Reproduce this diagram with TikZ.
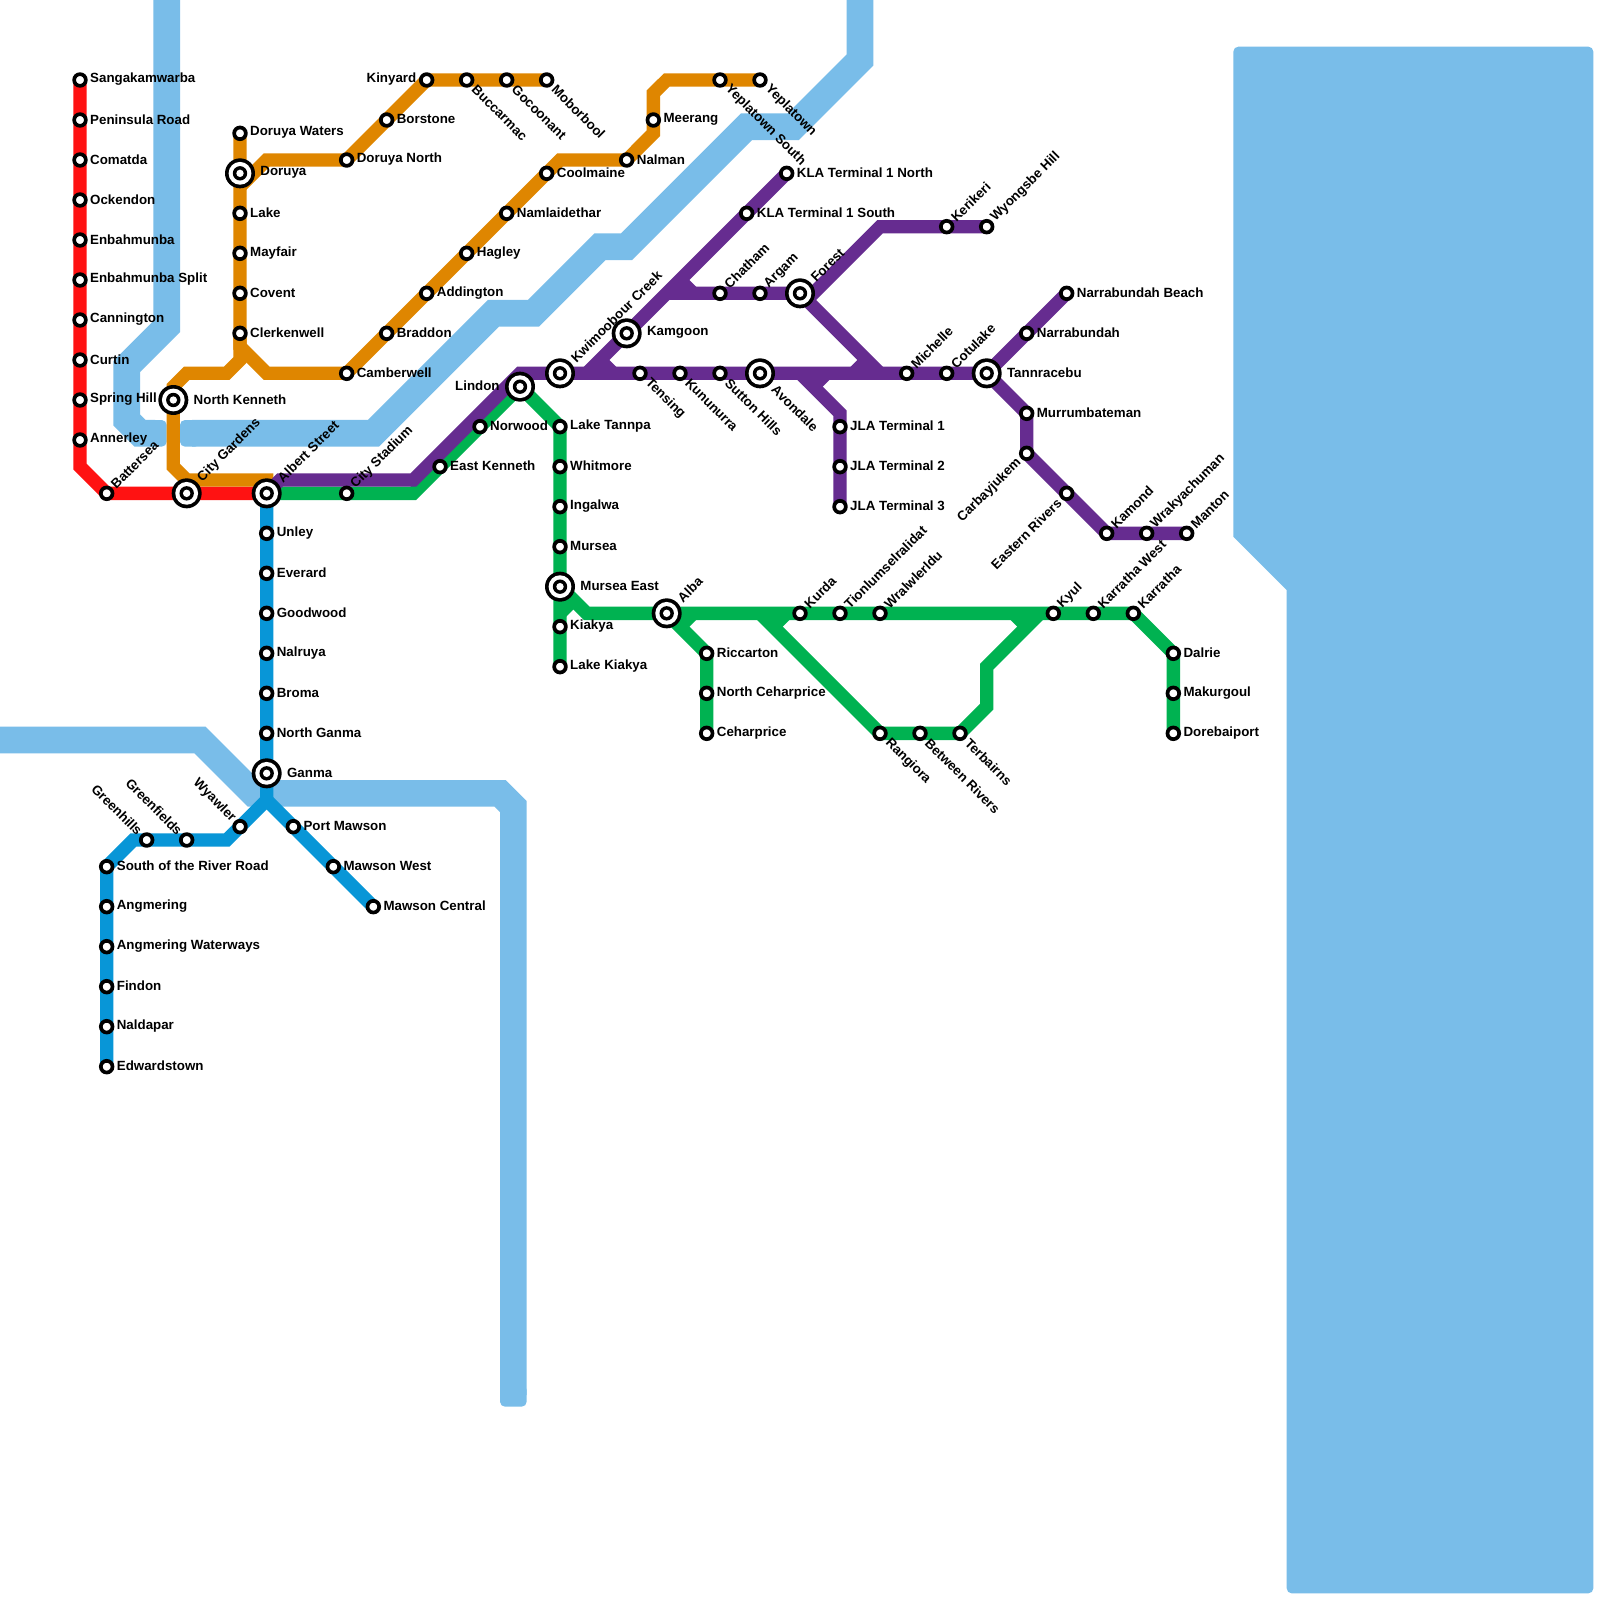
\documentclass[tikz,border=0pt]{standalone}
\usepackage{fontspec}
\setmainfont{Liberation Sans}
\pgfdeclarelayer{water}
\pgfdeclarelayer{lines}
\pgfsetlayers{water,lines,main}
\definecolor{river}{HTML}{79BDE9}
\definecolor{cred}{HTML}{FF1212}
\definecolor{corange}{HTML}{DF8600}
\definecolor{cpurple}{HTML}{662C90}
\definecolor{cgreen}{HTML}{00B251}
\definecolor{cblue}{HTML}{0896D7}
\tikzset{
  stn/.style={circle,draw=black,fill=white,line width=3.7pt,minimum size=11.7pt,inner sep=0pt,outer sep=0pt},
  hub/.style={circle,fill=black,minimum size=30pt,inner sep=0pt,outer sep=0pt,
    path picture={
      \fill[white] (path picture bounding box.center) circle[radius=11.4pt];
      \fill[black] (path picture bounding box.center) circle[radius=7.2pt];
      \fill[white] (path picture bounding box.center) circle[radius=3.7pt];}},
  lbl/.style={inner sep=0pt,outer sep=0pt,font=\fontsize{13.33}{15}\selectfont\bfseries,text=black},
  metro/.style={line width=13.33pt,line join=miter,miter limit=10},
  riverline/.style={draw=river,line width=26.67pt,line join=miter,miter limit=10},
}
\newcommand{\StR}[4]{\node[stn] (#1) at (#2,#3) {}; \node[lbl,anchor=west] (#1-l) at ([xshift=10.2pt,yshift=0.6pt]#1.center) {#4};}
\newcommand{\StL}[4]{\node[stn] (#1) at (#2,#3) {}; \node[lbl,anchor=east] (#1-l) at ([xshift=-10.4pt,yshift=0.6pt]#1.center) {#4};}
\newcommand{\StUR}[4]{\node[stn] (#1) at (#2,#3) {}; \node[lbl,anchor=west,rotate=45] (#1-l) at ([xshift=6.6pt,yshift=7.2pt]#1.center) {#4};}
\newcommand{\StDR}[4]{\node[stn] (#1) at (#2,#3) {}; \node[lbl,anchor=west,rotate=-45] (#1-l) at ([xshift=7.5pt,yshift=-7.5pt]#1.center) {#4};}
\newcommand{\StUL}[4]{\node[stn] (#1) at (#2,#3) {}; \node[lbl,anchor=east,rotate=-45] (#1-l) at ([xshift=-6.6pt,yshift=7.2pt]#1.center) {#4};}
\newcommand{\StDL}[4]{\node[stn] (#1) at (#2,#3) {}; \node[lbl,anchor=east,rotate=45] (#1-l) at ([xshift=-7.5pt,yshift=-7.5pt]#1.center) {#4};}
\newcommand{\HuR}[4]{\node[hub] (#1) at (#2,#3) {}; \node[lbl,anchor=west] (#1-l) at ([xshift=20.4pt,yshift=0.6pt]#1.center) {#4};}
\newcommand{\HuL}[4]{\node[hub] (#1) at (#2,#3) {}; \node[lbl,anchor=east] (#1-l) at ([xshift=-20.4pt,yshift=0.6pt]#1.center) {#4};}
\newcommand{\HuUR}[4]{\node[hub] (#1) at (#2,#3) {}; \node[lbl,anchor=west,rotate=45] (#1-l) at ([xshift=13.2pt,yshift=13.6pt]#1.center) {#4};}
\newcommand{\HuDR}[4]{\node[hub] (#1) at (#2,#3) {}; \node[lbl,anchor=west,rotate=-45] (#1-l) at ([xshift=14pt,yshift=-14pt]#1.center) {#4};}
\begin{document}
\begin{tikzpicture}[x=1pt,y=-1pt]
\useasboundingbox (0,0) rectangle (1600,1600);

% stations: red
\StR{sang}{80}{80}{Sangakamwarba}
\StR{peni}{80}{120}{Peninsula Road}
\StR{coma}{80}{160}{Comatda}
\StR{ocke}{80}{200}{Ockendon}
\StR{enba}{80}{240}{Enbahmunba}
\StR{enbs}{80}{280}{Enbahmunba Split}
\StR{cann}{80}{320}{Cannington}
\StR{curt}{80}{360}{Curtin}
\StR{spri}{80}{400}{Spring Hill}
\StR{anne}{80}{440}{Annerley}
\StUR{batt}{106.67}{493.33}{Battersea}
\HuUR{city}{186.67}{493.33}{City Gardens}
\HuUR{albe}{266.67}{493.33}{Albert Street}
% orange
\StR{dorw}{240}{133.33}{Doruya Waters}
\HuR{doru}{240}{173.33}{Doruya}
\StR{lake}{240}{213.33}{Lake}
\StR{mayf}{240}{253.33}{Mayfair}
\StR{cove}{240}{293.33}{Covent}
\StR{cler}{240}{333.33}{Clerkenwell}
\HuR{nken}{173.33}{400}{North Kenneth}
\StR{dorn}{346.67}{160}{Doruya North}
\StR{bors}{386.67}{120}{Borstone}
\StL{kiny}{426.67}{80}{Kinyard}
\StDR{bucc}{466.67}{80}{Buccarmac}
\StDR{goco}{506.67}{80}{Gocoonant}
\StDR{mobo}{546.67}{80}{Moborbool}
\StR{camb}{346.67}{373.33}{Camberwell}
\StR{brad}{386.67}{333.33}{Braddon}
\StR{addi}{426.67}{293.33}{Addington}
\StR{hagl}{466.67}{253.33}{Hagley}
\StR{naml}{506.67}{213.33}{Namlaidethar}
\StR{cool}{546.67}{173.33}{Coolmaine}
\StR{nalm}{626.67}{160}{Nalman}
\StR{meer}{653.33}{120}{Meerang}
\StDR{yeps}{720}{80}{Yeplatown South}
\StDR{yepl}{760}{80}{Yeplatown}
% purple
\StUR{csta}{346.67}{493.33}{City Stadium}
\StR{eken}{440}{466.67}{East Kenneth}
\StR{norw}{480}{426.67}{Norwood}
\HuL{lind}{520}{386.67}{Lindon}
\HuUR{kwim}{560}{373.33}{Kwimoobour Creek}
\HuR{kamg}{626.67}{333.33}{Kamgoon}
\StR{klan}{786.67}{173.33}{KLA Terminal 1 North}
\StR{klas}{746.67}{213.33}{KLA Terminal 1 South}
\StUR{chat}{720}{293.33}{Chatham}
\StUR{arga}{760}{293.33}{Argam}
\HuUR{fore}{800}{293.33}{Forest}
\StUR{keri}{946.67}{226.67}{Kerikeri}
\StUR{wyon}{986.67}{226.67}{Wyongsbe Hill}
\StDR{tens}{640}{373.33}{Tensing}
\StDR{kunu}{680}{373.33}{Kununurra}
\StDR{sutt}{720}{373.33}{Sutton Hills}
\HuDR{avon}{760}{373.33}{Avondale}
\StUR{mich}{906.67}{373.33}{Michelle}
\StUR{cotu}{946.67}{373.33}{Cotulake}
\HuR{tann}{986.67}{373.33}{Tannracebu}
\StR{narr}{1026.67}{333.33}{Narrabundah}
\StR{narb}{1066.67}{293.33}{Narrabundah Beach}
\StR{murr}{1026.67}{413.33}{Murrumbateman}
\StDL{carb}{1026.67}{453.33}{Carbayjukem}
\StDL{east}{1066.67}{493.33}{Eastern Rivers}
\StUR{kamo}{1106.67}{533.33}{Kamond}
\StUR{wrak}{1146.67}{533.33}{Wrakyachuman}
\StUR{mant}{1186.67}{533.33}{Manton}
\StR{jla1}{840}{426.67}{JLA Terminal 1}
\StR{jla2}{840}{466.67}{JLA Terminal 2}
\StR{jla3}{840}{506.67}{JLA Terminal 3}
% green
\StR{ltan}{560}{426.67}{Lake Tannpa}
\StR{whit}{560}{466.67}{Whitmore}
\StR{inga}{560}{506.67}{Ingalwa}
\StR{murs}{560}{546.67}{Mursea}
\HuR{mure}{560}{586.67}{Mursea East}
\StR{kiak}{560}{626.67}{Kiakya}
\StR{lkia}{560}{666.67}{Lake Kiakya}
\HuUR{alba}{666.67}{613.33}{Alba}
\StR{ricc}{706.67}{653.33}{Riccarton}
\StR{nceh}{706.67}{693.33}{North Ceharprice}
\StR{ceha}{706.67}{733.33}{Ceharprice}
\StUR{kurd}{800}{613.33}{Kurda}
\StUR{tion}{840}{613.33}{Tionlumselralidat}
\StUR{wral}{880}{613.33}{Wralwlerldu}
\StUR{kyul}{1053.33}{613.33}{Kyul}
\StUR{karw}{1093.33}{613.33}{Karratha West}
\StUR{karr}{1133.33}{613.33}{Karratha}
\StR{dalr}{1173.33}{653.33}{Dalrie}
\StR{maku}{1173.33}{693.33}{Makurgoul}
\StR{dore}{1173.33}{733.33}{Dorebaiport}
\StDR{rang}{880}{733.33}{Rangiora}
\StDR{betw}{920}{733.33}{Between Rivers}
\StDR{terb}{960}{733.33}{Terbairns}
% blue
\StR{unle}{266.67}{533.33}{Unley}
\StR{ever}{266.67}{573.33}{Everard}
\StR{good}{266.67}{613.33}{Goodwood}
\StR{nalr}{266.67}{653.33}{Nalruya}
\StR{brom}{266.67}{693.33}{Broma}
\StR{ngan}{266.67}{733.33}{North Ganma}
\HuR{ganm}{266.67}{773.33}{Ganma}
\StUL{wyaw}{240}{826.67}{Wyawler}
\StUL{gref}{186.67}{840}{Greenfields}
\StUL{greh}{146.67}{840}{Greenhills}
\StR{sout}{106.67}{866.67}{South of the River Road}
\StR{angm}{106.67}{906.67}{Angmering}
\StR{angw}{106.67}{946.67}{Angmering Waterways}
\StR{find}{106.67}{986.67}{Findon}
\StR{nald}{106.67}{1026.67}{Naldapar}
\StR{edwa}{106.67}{1066.67}{Edwardstown}
\StR{port}{293.33}{826.67}{Port Mawson}
\StR{mawe}{333.33}{866.67}{Mawson West}
\StR{mawc}{373.33}{906.67}{Mawson Central}

% bend points
\coordinate (r1) at (80,466.67);
\coordinate (o1) at (266.67,160);
\coordinate (o2) at (240,186.67);
\coordinate (o3) at (240,346.67);
\coordinate (o4) at (266.67,373.33);
\coordinate (o5) at (240,360);
\coordinate (o6) at (226.67,373.33);
\coordinate (o7) at (186.67,373.33);
\coordinate (o8) at (173.33,386.67);
\coordinate (o9) at (173.33,466.67);
\coordinate (o10) at (186.67,480);
\coordinate (o11) at (266.67,480);
\coordinate (o12) at (560,160);
\coordinate (o13) at (653.33,133.33);
\coordinate (o14) at (653.33,93.33);
\coordinate (o15) at (666.67,80);
\coordinate (p1) at (280,480);
\coordinate (p2) at (413.33,480);
\coordinate (p3) at (520,373.33);
\coordinate (p4) at (586.67,373.33);
\coordinate (p5) at (600,360);
\coordinate (p6) at (613.33,373.33);
\coordinate (p7) at (666.67,293.33);
\coordinate (p8) at (680,280);
\coordinate (p9) at (693.33,293.33);
\coordinate (p10) at (813.33,293.33);
\coordinate (p11) at (880,226.67);
\coordinate (p12) at (880,373.33);
\coordinate (p13) at (853.33,373.33);
\coordinate (p14) at (866.67,360);
\coordinate (p15) at (800,373.33);
\coordinate (p16) at (840,413.33);
\coordinate (p17) at (826.67,373.33);
\coordinate (p18) at (813.33,386.67);
\coordinate (g1) at (413.33,493.33);
\coordinate (g2) at (586.67,613.33);
\coordinate (g3) at (560,613.33);
\coordinate (g4) at (573.33,600);
\coordinate (g5) at (693.33,613.33);
\coordinate (g6) at (680,626.67);
\coordinate (g7) at (760,613.33);
\coordinate (g8) at (786.67,613.33);
\coordinate (g9) at (773.33,626.67);
\coordinate (g10) at (986.67,706.67);
\coordinate (g11) at (986.67,666.67);
\coordinate (g12) at (1040,613.33);
\coordinate (g13) at (1013.33,613.33);
\coordinate (g14) at (1026.67,626.67);
\coordinate (b1) at (266.67,800);
\coordinate (b2) at (226.67,840);
\coordinate (b3) at (133.33,840);

\begin{pgfonlayer}{water}
  \fill[white] (0,0) rectangle (1600,1600);
  \draw[riverline] (166.67,-20) -- (166.67,326.67) -- (126.67,366.67) -- (126.67,420) -- (140,433.33) -- (155,433.33);
  \fill[river,rounded corners=5pt] (145,420) rectangle (166.67,446.67);
  \draw[riverline] (192,433.33) -- (373.33,433.33) -- (493.33,313.33) -- (533.33,313.33) -- (600,246.67) -- (626.67,246.67) -- (746.67,126.67) -- (793.33,126.67) -- (860,60) -- (860,-20);
  \fill[river,rounded corners=5pt] (180,420) rectangle (200,446.67);
  \draw[riverline] (-20,740) -- (200,740) -- (253.33,793.33) -- (500,793.33) -- (513.33,806.67) -- (513.33,1395);
  \fill[river,rounded corners=5pt] (500,1385) rectangle (526.67,1406.67);
  \fill[river,rounded corners=5pt] (1233.33,536.67) -- (1233.33,46.67) -- (1593.33,46.67) -- (1593.33,1593.33) -- (1286.67,1593.33) {[sharp corners] -- (1286.67,590) -- (1233.33,536.67)} -- cycle;
\end{pgfonlayer}

\begin{pgfonlayer}{lines}
  % blue
  \draw[metro,cblue] (albe.center) -- (b1) -- (b2) -- (b3) -- (sout.center) -- (edwa.center);
  \draw[metro,cblue] (b1) -- (mawc.center);
  % red
  \draw[metro,cred] (sang.center) -- (r1) -- (batt.center) -- (albe.center);
  % orange
  \draw[metro,corange] (dorw.center) -- (o3) -- (o4) -- (camb.center) -- (o12) -- (nalm.center) -- (o13) -- (o14) -- (o15) -- (yepl.center);
  \draw[metro,corange] (cler.center) -- (o5) -- (o6) -- (o7) -- (o8) -- (nken.center) -- (o9) -- (o10) -- (o11) -- (albe.center);
  \draw[metro,corange] (o2) -- (o1) -- (dorn.center) -- (kiny.center) -- (mobo.center);
  % green
  \draw[metro,cgreen] (albe.center) -- (g1) -- (lind.center) -- (ltan.center) -- (lkia.center);
  \draw[metro,cgreen] (mure.center) -- (g2) -- (karr.center) -- (dalr.center) -- (dore.center);
  \draw[metro,cgreen] (g3) -- (g4);
  \draw[metro,cgreen] (alba.center) -- (ricc.center) -- (ceha.center);
  \draw[metro,cgreen] (g5) -- (g6);
  \draw[metro,cgreen] (g7) -- (rang.center) -- (terb.center) -- (g10) -- (g11) -- (g12);
  \draw[metro,cgreen] (g8) -- (g9);
  \draw[metro,cgreen] (g13) -- (g14);
  % purple
  \draw[metro,cpurple] (albe.center) -- (p1) -- (p2) -- (p3) -- (tann.center) -- (narb.center);
  \draw[metro,cpurple] (tann.center) -- (murr.center) -- (carb.center) -- (kamo.center) -- (mant.center);
  \draw[metro,cpurple] (klan.center) -- (p4);
  \draw[metro,cpurple] (p5) -- (p6);
  \draw[metro,cpurple] (p7) -- (fore.center) -- (p10) -- (p11) -- (wyon.center);
  \draw[metro,cpurple] (p8) -- (p9);
  \draw[metro,cpurple] (fore.center) -- (p12);
  \draw[metro,cpurple] (p13) -- (p14);
  \draw[metro,cpurple] (p15) -- (p16) -- (jla3.center);
  \draw[metro,cpurple] (p17) -- (p18);
\end{pgfonlayer}
\end{tikzpicture}
\end{document}
